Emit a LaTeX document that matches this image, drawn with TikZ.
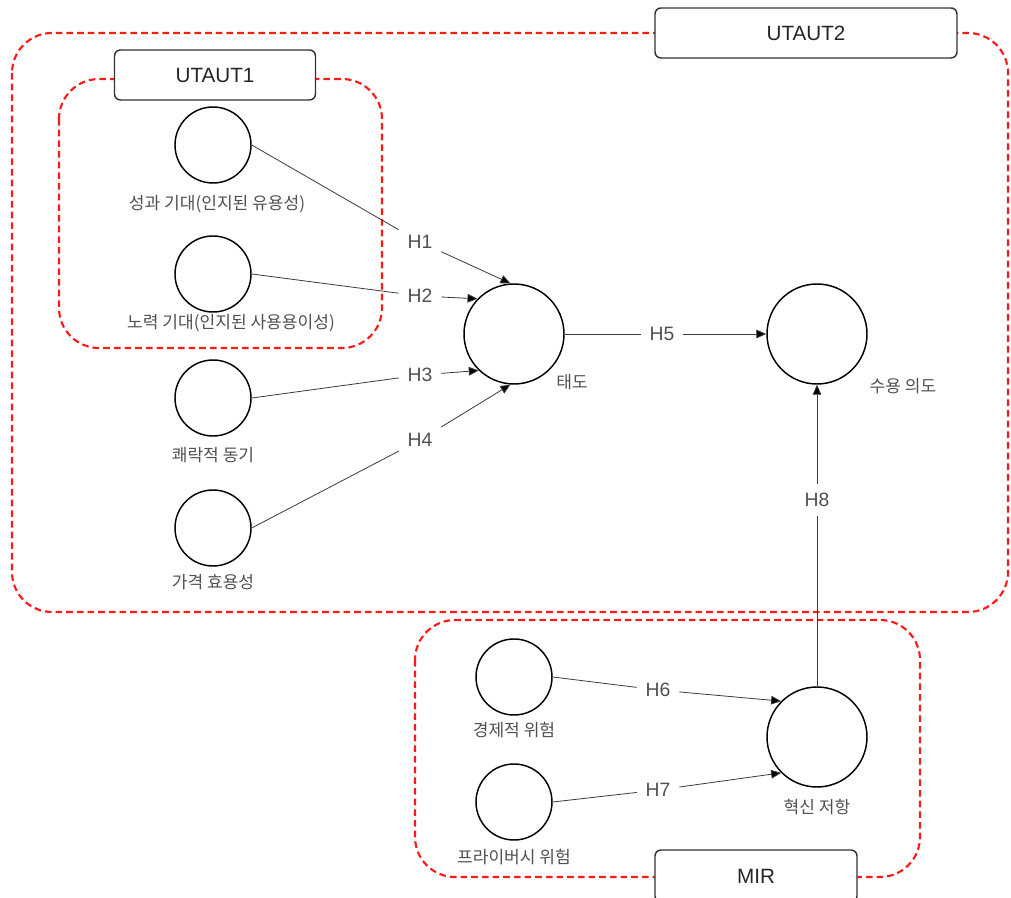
\documentclass[tikz,border=0pt]{standalone}
\usepackage{fontspec}
\setmainfont{Liberation Sans}
\newfontfamily\kr{Noto Sans CJK KR}
\usetikzlibrary{arrows.meta}
\definecolor{boxred}{HTML}{FF1A1A}
\definecolor{labgray}{HTML}{505050}
\definecolor{edgegray}{HTML}{3A3A3A}
\begin{document}
\begin{tikzpicture}[x=0.75pt,y=-0.75pt,
  grp/.style={draw=boxred, line width=1.6pt, dash pattern=on 5pt off 3pt, rounded corners=30pt},
  tag/.style={draw=black!80, line width=1.1pt, rounded corners=4.5pt, fill=white,
    minimum height=37.5pt, inner sep=0pt, font=\fontsize{15.5}{18}\selectfont, text=black!85},
  var/.style={circle, draw=black, line width=1.1pt, fill=white, minimum size=57pt, inner sep=0pt},
  bigvar/.style={var, minimum size=75pt},
  varname/.style={font=\kr\fontsize{12.8}{14}\selectfont, text=labgray},
  hyp/.style={font=\fontsize{14.5}{17}\selectfont, text=labgray, inner sep=6.5pt},
  link/.style={draw=edgegray, line width=0.6pt},
  tip/.style={link, -{Triangle[length=7.5pt,width=6.5pt,fill=black]}}]

\useasboundingbox (0,0) rectangle (1011,898);
\clip (0,0) rectangle (1011,898);

% construct groups (dashed frames)
\draw[grp] (12,33) rectangle (1008,612);
\draw[grp] (59,79) rectangle (382,348);
\draw[grp] (415,620) rectangle (920,877);

% frame titles
\node[tag, minimum width=226.5pt] (tU2) at (806,33) {UTAUT2};
\node[tag, minimum width=150.75pt] (tU1) at (215,75) {UTAUT1};
\node[tag, minimum width=151.5pt, minimum height=39pt] (tMIR) at (756,876) {MIR};

% latent variables
\node[var] (perf) at (213,145) {};
\node[var] (effort) at (213,274) {};
\node[var] (hedon) at (213,398) {};
\node[var] (price) at (213,528) {};
\node[bigvar] (att) at (514,334) {};
\node[bigvar] (intent) at (817,334) {};
\node[var] (econ) at (514,677) {};
\node[var] (priv) at (514,802) {};
\node[bigvar] (innov) at (817,737) {};

% variable captions
\node[varname] (cperf) at (217,204) {성과 기대(인지된 유용성)};
\node[varname] (ceffort) at (231,323) {노력 기대(인지된 사용용이성)};
\node[varname] (chedon) at (213,455) {쾌락적 동기};
\node[varname] (cprice) at (213,582) {가격 효용성};
\node[varname] (catt) at (572,382) {태도};
\node[varname] (cintent) at (903,386) {수용 의도};
\node[varname] (cecon) at (514,730) {경제적 위험};
\node[varname] (cpriv) at (514,857) {프라이버시 위험};
\node[varname] (cinnov) at (817,807) {혁신 저항};

% hypothesis labels
\node[hyp] (h1) at (420,242) {H1};
\node[hyp] (h2) at (420,296) {H2};
\node[hyp] (h3) at (420,375) {H3};
\node[hyp] (h4) at (420,440) {H4};
\node[hyp] (h5) at (662,334) {H5};
\node[hyp] (h6) at (658,690) {H6};
\node[hyp] (h7) at (658,790) {H7};
\node[hyp] (h8) at (817,500) {H8};

% paths
\draw[link] (perf.east) -- (h1);   \draw[tip] (h1) -- (att.94);
\draw[link] (effort.east) -- (h2); \draw[tip] (h2) -- (att.136);
\draw[link] (hedon.east) -- (h3);  \draw[tip] (h3) -- (att.226);
\draw[link] (price.east) -- (h4);  \draw[tip] (h4) -- (att.266);
\draw[link] (att.east) -- (h5);    \draw[tip] (h5) -- (intent.west);
\draw[link] (econ.east) -- (h6);   \draw[tip] (h6) -- (innov.135);
\draw[link] (priv.east) -- (h7);   \draw[tip] (h7) -- (innov.225);
\draw[link] (innov.north) -- (h8); \draw[tip] (h8) -- (intent.south);
\end{tikzpicture}
\end{document}
